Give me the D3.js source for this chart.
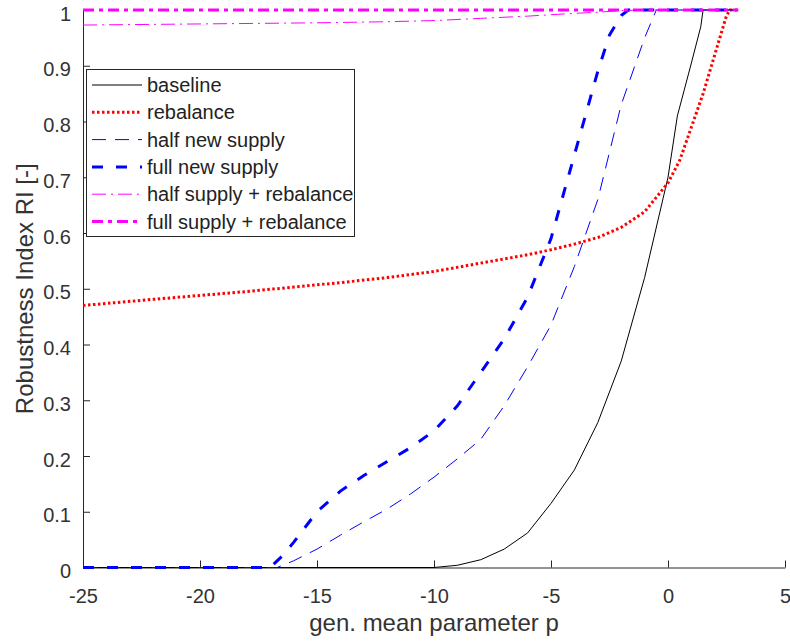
<!DOCTYPE html>
<html>
<head>
<meta charset="utf-8">
<script src="https://cdn.jsdelivr.net/npm/d3@7"></script>
<style>
  body { margin: 0; background: #fff; }
  text { font-family: "Liberation Sans", Arial, sans-serif; }
</style>
</head>
<body>
<script>
// Robustness index vs gen. mean parameter, redrawn with D3

// data
var pBaseline = [-25, -10, -9, -8, -7, -6, -5, -4, -3, -2, -1, 0, 0.4, 1, 1.4, 1.5, 3];
var riBaseline = [0, 0, 0.004, 0.014, 0.033, 0.062, 0.115, 0.175, 0.26, 0.37, 0.52, 0.70, 0.81, 0.905, 0.97, 1, 1];

var pRebalance = [-25, -22, -20, -18, -16, -14, -12, -10, -8, -6, -5, -4, -3, -2, -1, 0, 0.5, 1, 1.5, 2, 2.5, 2.65, 3];
var riRebalance = [0.47, 0.481, 0.488, 0.495, 0.503, 0.511, 0.52, 0.531, 0.546, 0.561, 0.57, 0.58, 0.592, 0.61, 0.638, 0.69, 0.73, 0.79, 0.85, 0.92, 0.99, 1, 1];

var pHalfSupply = [-25, -16.7, -16, -15, -14, -13, -12, -11, -10, -9, -8, -7, -6, -5, -4, -3, -2, -1, -0.5, 3];
var riHalfSupply = [0, 0, 0.012, 0.033, 0.058, 0.082, 0.105, 0.132, 0.162, 0.195, 0.23, 0.29, 0.36, 0.435, 0.54, 0.66, 0.83, 0.95, 1, 1];

var pFullSupply = [-25, -17, -16.5, -16, -15, -14, -13, -12, -11, -10, -9, -8, -7, -6, -5, -4, -3, -2.5, -2, -1.7, 3];
var riFullSupply = [0, 0, 0.02, 0.045, 0.1, 0.137, 0.165, 0.19, 0.215, 0.245, 0.29, 0.35, 0.41, 0.485, 0.59, 0.74, 0.89, 0.955, 0.99, 1, 1];

var pHalfReb = [-25, -20, -15, -12, -10, -8, -6, -4, -3, -2, -1, 3];
var riHalfReb = [0.973, 0.975, 0.977, 0.979, 0.981, 0.985, 0.989, 0.994, 0.996, 0.999, 1, 1];

var pFullReb = [-25, 3];
var riFullReb = [1, 1];

var xTicks = [-25, -20, -15, -10, -5, 0, 5];
var xTickLabels = ["-25", "-20", "-15", "-10", "-5", "0", "5"];
var yTicks = [0, 0.1, 0.2, 0.3, 0.4, 0.5, 0.6, 0.7, 0.8, 0.9, 1];
var yTickLabels = ["0", "0.1", "0.2", "0.3", "0.4", "0.5", "0.6", "0.7", "0.8", "0.9", "1"];

var seriesNames = ["baseline", "rebalance", "half new supply", "full new supply",
  "half supply + rebalance", "full supply + rebalance"];

window.onload = function(){

    var w = 790, h = 641;
    var left = 83, right = 785, top = 10, bottom = 567.5;
    var axisColor = "#262626";

    var svg = d3.select("body")
      .append("svg")
      .attr("width", w)
      .attr("height", h);

    var x = d3.scaleLinear().domain([-25, 5]).range([left, right]);
    var y = d3.scaleLinear().domain([0, 1]).range([bottom, top]);

    // axes: bottom and left only, ticks point inward, plain hyphen minus
    var xAxis = svg.append("g")
      .attr("transform", "translate(0," + bottom + ")")
      .call(d3.axisBottom(x).tickValues(xTicks).tickSizeInner(-7).tickSizeOuter(0).tickPadding(21)
        .tickFormat(function(d, i){ return xTickLabels[i]; }));
    var yAxis = svg.append("g")
      .attr("transform", "translate(" + left + ",0)")
      .call(d3.axisLeft(y).tickValues(yTicks).tickSizeInner(-7).tickSizeOuter(0).tickPadding(12)
        .tickFormat(function(d, i){ return yTickLabels[i]; }));

    [xAxis, yAxis].forEach(function(a){
      a.select(".domain").attr("stroke", axisColor);
      a.selectAll(".tick line").attr("stroke", axisColor);
      a.selectAll(".tick text")
        .attr("fill", "#333")
        .style("font-size", "20px");
    });
    xAxis.selectAll(".tick text").attr("dy", "0.71em");
    yAxis.selectAll(".tick text").attr("dy", "0.5em");

    // axis labels
    svg.append("text")
      .attr("x", (left + right) / 2)
      .attr("y", 631)
      .attr("text-anchor", "middle")
      .attr("fill", "#333")
      .style("font-size", "24px")
      .text("gen. mean parameter p");

    svg.append("text")
      .attr("transform", "translate(33," + ((top + bottom) / 2) + ") rotate(-90)")
      .attr("text-anchor", "middle")
      .attr("fill", "#333")
      .style("font-size", "24px")
      .text("Robustness Index RI [-]");

    // one entry per series: values plus line style
    var series = [
      {p: pBaseline,   v: riBaseline,   color: "#000",    width: 1,   dash: null},
      {p: pRebalance,  v: riRebalance,  color: "#ff0000", width: 3,   dash: "2.5,2.5"},
      {p: pHalfSupply, v: riHalfSupply, color: "#0000ff", width: 1,   dash: "14,9"},
      {p: pFullSupply, v: riFullSupply, color: "#0000ff", width: 3,   dash: "11,13"},
      {p: pHalfReb,    v: riHalfReb,    color: "#ff00ff", width: 1,   dash: "14,5,2,5"},
      {p: pFullReb,    v: riFullReb,    color: "#ff00ff", width: 3,   dash: "11,5,4,5"}
    ];

    var line = d3.line()
      .x(function(d){ return x(d[0]); })
      .y(function(d){ return y(d[1]); });

    svg.append("g").selectAll("path")
      .data(series)
      .enter()
      .append("path")
      .attr("d", function(s){ return line(d3.zip(s.p, s.v)); })
      .attr("fill", "none")
      .attr("stroke", function(s){ return s.color; })
      .attr("stroke-width", function(s){ return s.width; })
      .attr("stroke-dasharray", function(s){ return s.dash; });

    // legend box in the upper left
    var legend = svg.append("g").attr("transform", "translate(86,69)");
    legend.append("rect")
      .attr("x", 0.5).attr("y", 0.5)
      .attr("width", 268).attr("height", 167)
      .attr("fill", "#fff")
      .attr("stroke", axisColor);

    var rows = legend.selectAll("g.row")
      .data(series)
      .enter()
      .append("g")
      .attr("class", "row")
      .attr("transform", function(d, i){ return "translate(0," + (16 + i * 27.3) + ")"; });

    rows.append("line")
      .attr("x1", 6).attr("x2", 56)
      .attr("stroke", function(s){ return s.color; })
      .attr("stroke-width", function(s){ return s.width; })
      .attr("stroke-dasharray", function(s){ return s.dash; });

    rows.append("text")
      .attr("x", 61)
      .attr("dy", "0.35em")
      .attr("fill", "#222")
      .style("font-size", "20px")
      .text(function(d, i){ return seriesNames[i]; });
};
</script>
</body>
</html>
